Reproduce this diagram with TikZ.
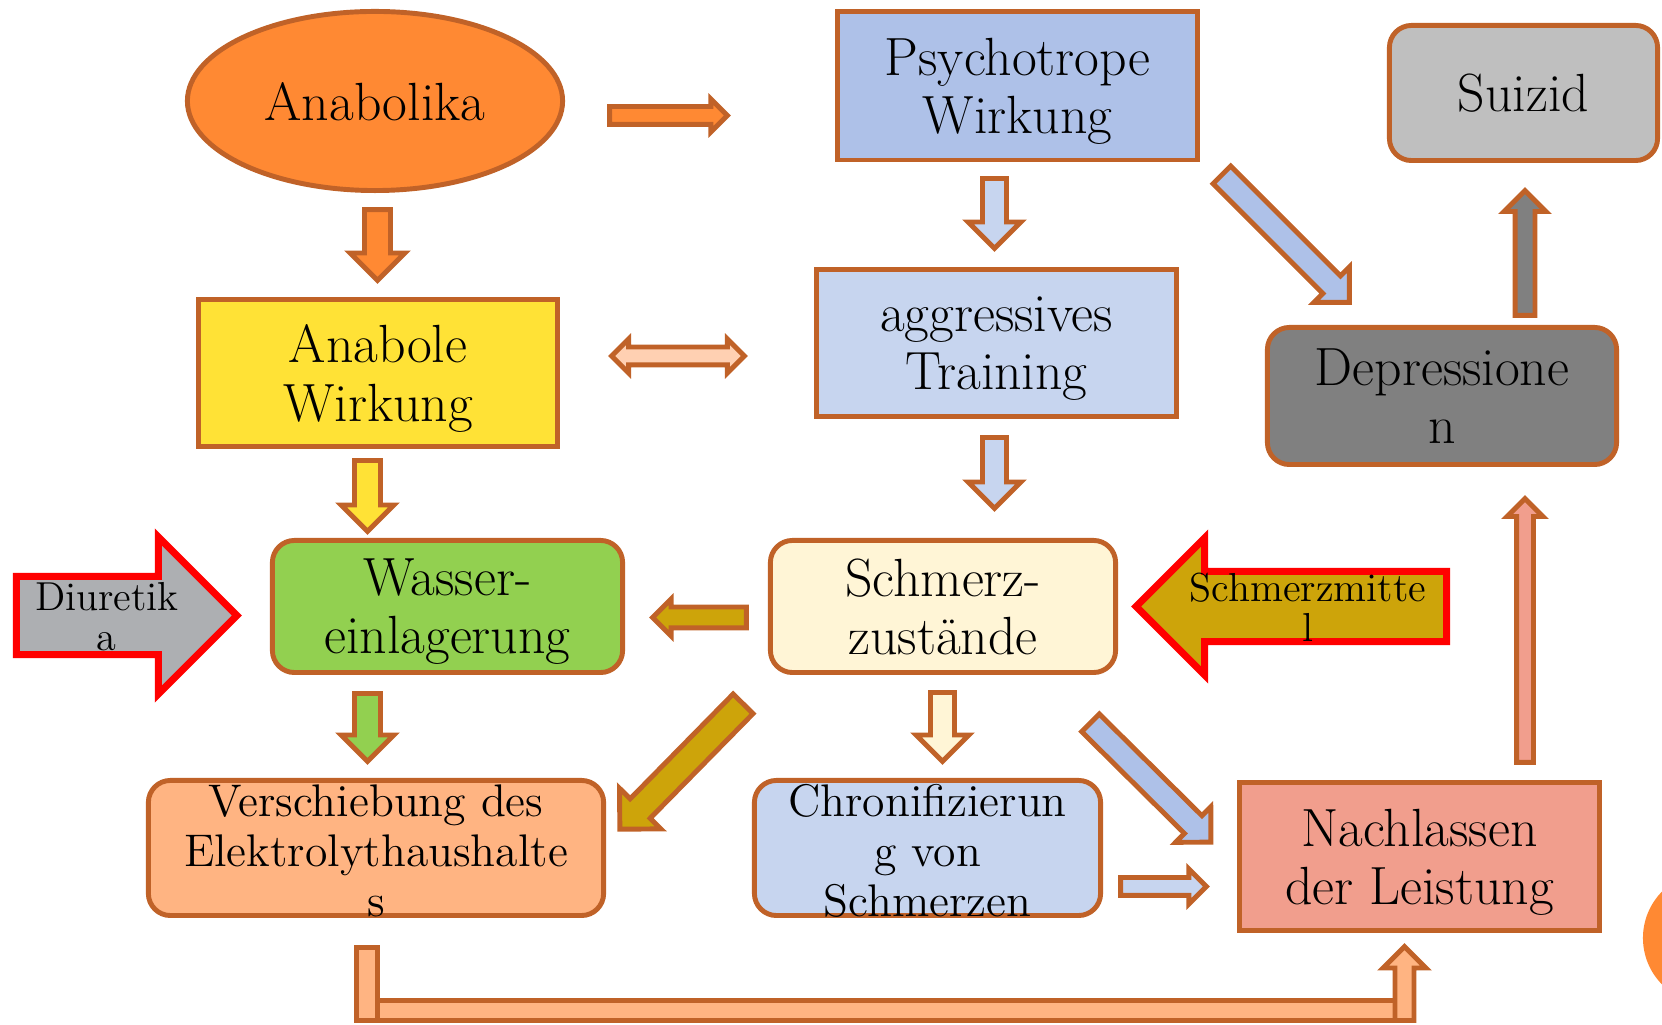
\documentclass[tikz,border=0pt]{standalone}
\usepackage{tikz}
\usetikzlibrary{shapes.geometric,shapes.arrows,calc,positioning}
\definecolor{rim}{RGB}{192,98,40}
\definecolor{anaorange}{RGB}{255,137,51}
\definecolor{psyblue}{RGB}{174,193,232}
\definecolor{paleblue}{RGB}{199,213,239}
\definecolor{suigray}{RGB}{191,191,191}
\definecolor{anayellow}{RGB}{255,226,54}
\definecolor{depgray}{RGB}{128,128,128}
\definecolor{wassgreen}{RGB}{146,208,80}
\definecolor{painyellow}{RGB}{255,245,214}
\definecolor{diugray}{RGB}{173,175,178}
\definecolor{pillgold}{RGB}{205,164,10}
\definecolor{peach}{RGB}{255,180,130}
\definecolor{lightpeach}{RGB}{255,208,178}
\definecolor{salmon}{RGB}{241,158,141}
\newcommand{\bigfont}{\fontsize{15.3}{16.5}\selectfont}
\newcommand{\midfont}{\fontsize{13}{14.2}\selectfont}
\newcommand{\smallfont}{\fontsize{11.5}{11.3}\selectfont}
\tikzset{
  box/.style={draw=rim,line width=1.4pt,align=center,inner sep=0pt,outer sep=0pt,font=\bigfont,text depth=0pt},
  roundbox/.style={box,rounded corners=0.22cm},
  boxtext/.style={align=center,inner sep=0pt,font=\midfont,yshift=-0.03cm},
  blockarrow/.style 2 args={single arrow,draw=rim,line width=1.4pt,inner xsep=0pt,inner ysep=#1/2,
    outer sep=0pt,single arrow head extend=#2},
  botharrow/.style 2 args={double arrow,draw=rim,line width=1.4pt,inner xsep=0pt,inner ysep=#1/2,
    outer sep=0pt,double arrow head extend=#2},
  sidearrow/.style 2 args={single arrow,draw=red,line width=2pt,inner xsep=0pt,inner ysep=#1/2,
    outer sep=0pt,single arrow head extend=#2},
  sidetext/.style={align=center,inner sep=0pt,font=\smallfont},
  elbowbar/.style={draw=rim,line width=1.4pt,fill=peach}
}
% block arrow from tail to tip: [style]{name}{tail}{tip}
\newcommand{\blockarr}[4][]{%
  \path let \p1=(#3), \p2=(#4),
    \n1={atan2(\y2-(\y1),\x2-(\x1))}, \n2={veclen(\x2-(\x1),\y2-(\y1))} in
    (\p1) node[#1,anchor=tail,rotate=\n1,minimum height=\n2] (#2) {};}

\begin{document}
\begin{tikzpicture}[x=0.01cm,y=-0.01cm]
  \useasboundingbox (0,0) rectangle (1662,1025);
  \clip (0,0) rectangle (1662,1025);

  \node[box,ellipse,fill=anaorange,minimum width=3.75cm,minimum height=1.79cm] (anabolika) at (375,101) {Anabolika};
  \node[box,fill=psyblue,minimum width=3.6cm,minimum height=1.48cm] (psycho) at (1017.5,86) {Psychotrope\\Wirkung};
  \node[roundbox,fill=suigray,minimum width=2.68cm,minimum height=1.35cm] (suizid) at (1523.5,93) {Suizid};
  \node[box,fill=anayellow,minimum width=3.59cm,minimum height=1.47cm] (anabole) at (378,373) {Anabole\\Wirkung};
  \node[box,fill=paleblue,minimum width=3.6cm,minimum height=1.47cm] (training) at (996.5,343) {aggressives\\Training};
  \node[roundbox,fill=depgray,minimum width=3.49cm,minimum height=1.37cm] (depress) at (1442,396) {Depressione\\n};
  \node[roundbox,fill=wassgreen,minimum width=3.5cm,minimum height=1.32cm] (wasser) at (447.5,606.5) {Wasser-\\einlagerung};
  \node[roundbox,fill=painyellow,minimum width=3.45cm,minimum height=1.32cm] (schmerz) at (943,606.5) {Schmerz-\\zustände};
  \node[roundbox,fill=peach,minimum width=4.55cm,minimum height=1.35cm] (verschieb) at (376,848) {};
  \node[boxtext] (verschiebtxt) at (verschieb.center) {Verschiebung des\\Elektrolythaushalte\\s};
  \node[roundbox,fill=paleblue,minimum width=3.46cm,minimum height=1.35cm] (chron) at (927.5,848) {};
  \node[boxtext] (chrontxt) at (chron.center) {Chronifizierun\\g von\\Schmerzen};
  \node[box,fill=salmon,minimum width=3.6cm,minimum height=1.48cm] (nachlass) at (1419.5,856.5) {Nachlassen\\der Leistung};

  \blockarr[sidearrow={0.71cm}{0.395cm},fill=diugray]{diuretika}{$(wasser.west)+(-256,9)$}{$(wasser.west)+(-35.5,9)$}
  \node[sidetext] (diurtxt) at ($(wasser.west)+(-165.5,10.5)$) {Diuretik\\a};
  \blockarr[sidearrow={0.63cm}{0.335cm},fill=pillgold]{mittel}{$(schmerz.east)+(331,0)$}{$(schmerz.east)+(20.5,0)$}
  \node[sidetext] (mitteltxt) at ($(schmerz.east)+(192.5,0.5)$) {Schmerzmitte\\l};

  \blockarr[blockarrow={0.13cm}{0.075cm},fill=anaorange]{a1}{$(anabolika.east)+(47,14.5)$}{$(psycho.west)+(-110,29.5)$}
  \blockarr[blockarrow={0.21cm}{0.145cm},fill=anaorange]{a2}{$(anabolika.south)+(2.5,19)$}{$(anabole.north)+(-0.5,-19)$}
  \blockarr[blockarrow={0.19cm}{0.145cm},fill=paleblue]{a3}{$(psycho.south)+(-23,18.5)$}{$(training.north)+(-2,-21)$}
  \path let \p1=($(anabole.east)+(54,-17)$), \p2=($(training.west)+(-72,13)$), \n2={veclen(\x2-(\x1),\y2-(\y1))} in
    ($(\p1)!0.5!(\p2)$) node[botharrow={0.13cm}{0.08cm},fill=lightpeach,minimum height=\n2] (a4) {};
  \blockarr[blockarrow={0.2cm}{0.125cm},fill=psyblue]{a5}{$(psycho.south east)+(24.3,14.8)$}{$(depress.north)+(-92.5,-25)$}
  \blockarr[blockarrow={0.15cm}{0.11cm},fill=depgray]{a6}{$(depress.north)+(83,-12)$}{$(suizid.south)+(1.5,30)$}
  \blockarr[blockarrow={0.21cm}{0.135cm},fill=anayellow]{a7}{$(anabole.south)+(-10.5,14)$}{$(wasser.north)+(-80,-9)$}
  \blockarr[blockarrow={0.19cm}{0.145cm},fill=paleblue]{a8}{$(training.south)+(-2,21)$}{$(schmerz.north)+(51.5,-32)$}
  \blockarr[blockarrow={0.16cm}{0.08cm},fill=pillgold]{a9}{$(schmerz.west)+(-24,11)$}{$(wasser.east)+(30,11)$}
  \blockarr[blockarrow={0.21cm}{0.135cm},fill=wassgreen]{a10}{$(wasser.south)+(-80,21)$}{$(verschieb.north)+(-8.5,-19)$}
  \blockarr[blockarrow={0.23cm}{0.15cm},fill=pillgold]{a11}{$(schmerz.south west)+(-27.3,31.3)$}{$(verschieb.north east)+(16,49)$}
  \blockarr[blockarrow={0.19cm}{0.145cm},fill=painyellow]{a12}{$(schmerz.south)+(-0.5,20)$}{$(chron.north)+(15,-19)$}
  \blockarr[blockarrow={0.2cm}{0.125cm},fill=psyblue]{a13}{$(schmerz.south east)+(-25.1,50.3)$}{$(nachlass.west)+(-28.3,-14.2)$}
  \blockarr[blockarrow={0.13cm}{0.085cm},fill=paleblue]{a14}{$(chron.east)+(20,38.5)$}{$(nachlass.west)+(-33,30)$}
  \blockarr[blockarrow={0.12cm}{0.095cm},fill=salmon]{a15}{$(nachlass.north)+(105.5,-20)$}{$(depress.south)+(83,34)$}

  \draw[elbowbar] ($(verschieb.south)+(1.5,85)$) rectangle ($(nachlass.south)+(-22,90)$);
  \draw[elbowbar] ($(verschieb.south)+(-19.5,32)$) rectangle ($(verschieb.south)+(1.5,105)$);
  \blockarr[blockarrow={0.14cm}{0.12cm},fill=peach]{a16}{$(nachlass.south)+(-15,90)$}{$(nachlass.south)+(-15,16)$}

  \fill[anaorange] (1709,938) circle (0.66cm);
\end{tikzpicture}
\end{document}
